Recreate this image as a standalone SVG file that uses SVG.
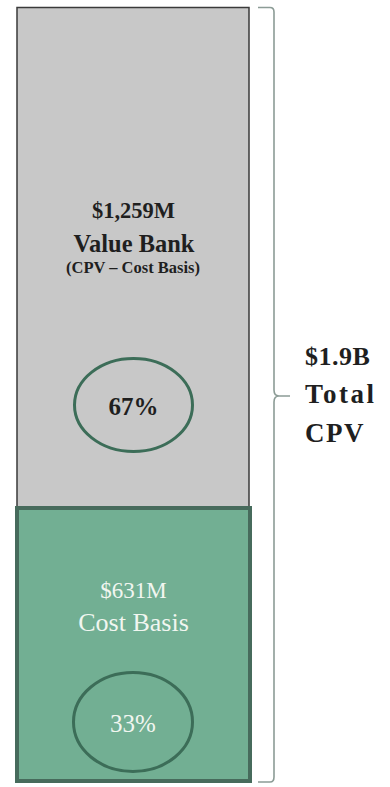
<svg xmlns="http://www.w3.org/2000/svg" width="390" height="787" viewBox="0 0 390 787">
<style>
.lbl{font-family:"Liberation Serif","Times New Roman",serif;text-anchor:middle}
.dark{fill:#1f1f1f;font-weight:bold}
.light{fill:#f1f6f0}
.ring{fill:none;stroke:#3c6d58;stroke-width:3}
.side{text-anchor:start}
</style>
<rect width="390" height="787" fill="#ffffff"/>
<g id="value-bank">
<rect x="17" y="7.5" width="232" height="501" fill="#c8c8c8" stroke="#3a3a3a" stroke-width="1.5"/>
<text class="lbl dark" x="133.5" y="218" font-size="22.5">$1,259M</text>
<text class="lbl dark" x="134" y="252" font-size="24.5">Value Bank</text>
<text class="lbl dark" x="133" y="273" font-size="16.5">(CPV – Cost Basis)</text>
</g>
<g id="value-bank-pct">
<ellipse class="ring" cx="133.5" cy="405" rx="59" ry="46.5"/>
<text class="lbl dark" x="133.5" y="415" font-size="25">67%</text>
</g>
<g id="cost-basis">
<rect x="17" y="508" width="233" height="273" fill="#72af93" stroke="#476b5c" stroke-width="4"/>
<text class="lbl light" x="133.5" y="598" font-size="23">$631M</text>
<text class="lbl light" x="133.5" y="631" font-size="26">Cost Basis</text>
</g>
<g id="cost-basis-pct">
<ellipse class="ring" cx="133" cy="722" rx="59.5" ry="49.5"/>
<text class="lbl light" x="133" y="732" font-size="25">33%</text>
</g>
<g id="connectors">
<path d="M258 7.5 H270 Q274 7.5 274 12 V390 Q274 396 279 396 H290 M279 396 Q274 396 274 402 V777 Q274 782 270 782 H258" fill="none" stroke="#8c9c96" stroke-width="1.6"/>
</g>
<g id="total">
<text class="lbl dark side" x="305" y="365" font-size="26" letter-spacing="0.5">$1.9B</text>
<text class="lbl dark side" x="305" y="403" font-size="27" letter-spacing="2.5">Total</text>
<text class="lbl dark side" x="305" y="442" font-size="27" letter-spacing="1.5">CPV</text>
</g>
</svg>
